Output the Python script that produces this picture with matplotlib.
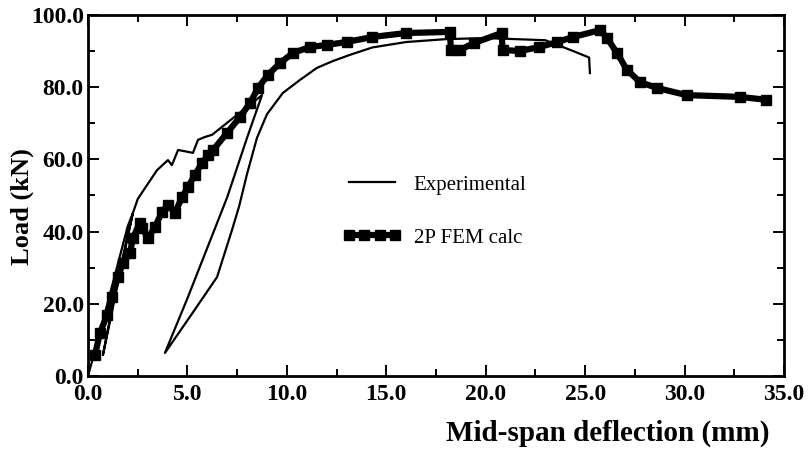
import numpy as np
import matplotlib
matplotlib.use('Agg')
import matplotlib.pyplot as plt
from matplotlib.ticker import MultipleLocator, FormatStrFormatter

plt.rcParams['font.family'] = ['Liberation Serif', 'DejaVu Serif']

# Experimental load-deflection curve (mm, kN)
exp_x = [0.0, 0.5, 1.0, 1.5, 2.0, 2.25, 1.5, 0.75, 1.5, 2.25, 2.5, 2.8, 3.47, 4.02, 4.22,
         4.53, 5.28, 5.53, 5.88, 6.24, 6.99, 7.49, 8.15, 8.75, 8.0, 7.0, 6.0, 5.0, 3.87,
         5.2, 6.49, 7.24, 7.6, 8.0, 8.5, 9.0, 9.8, 10.66, 11.5, 12.3, 13.2, 14.3, 16.0,
         18.0, 20.0, 22.0, 23.0, 23.6, 24.4, 25.2, 25.24]
exp_y = [0.0, 10.0, 20.5, 31.0, 41.5, 45.0, 27.0, 5.8, 25.5, 45.0, 49.0, 51.5, 57.0, 59.8, 58.4,
         62.6, 61.8, 65.4, 66.2, 66.8, 70.1, 72.3, 75.1, 77.8, 66.0, 49.5, 35.5, 21.5, 6.4,
         17.0, 27.4, 40.4, 47.0, 56.0, 66.0, 72.5, 78.4, 82.0, 85.3, 87.2, 89.0, 91.0, 92.5,
         93.3, 93.6, 93.2, 93.0, 91.7, 90.0, 88.2, 83.9]

# 2P FEM calculation
fem_x = [0.35, 0.6, 0.96, 1.2, 1.5, 1.76, 2.11, 2.26, 2.6, 2.72, 3.02, 3.37, 3.72, 4.02,
         4.37, 4.73, 5.03, 5.38, 5.73, 6.03, 6.29, 6.99, 7.64, 8.15, 8.55, 9.05, 9.66,
         10.31, 11.16, 12.0, 13.0, 14.3, 16.0, 18.2, 18.25, 18.7, 19.4, 20.8, 20.85, 21.7,
         22.7, 23.6, 24.4, 25.75, 26.1, 26.6, 27.1, 27.76, 28.6, 30.1, 32.8, 34.1]
fem_y = [5.8, 11.9, 16.9, 21.9, 27.4, 31.3, 34.0, 38.2, 42.4, 41.0, 38.2, 41.3, 45.4, 47.4,
         45.2, 49.5, 52.4, 55.7, 59.0, 61.2, 62.6, 67.3, 71.7, 75.6, 79.8, 83.4, 86.7,
         89.5, 91.1, 91.7, 92.5, 93.9, 95.0, 95.3, 90.3, 90.3, 92.2, 95.0, 90.3, 90.0,
         91.1, 92.5, 93.9, 95.8, 93.6, 89.5, 84.8, 81.4, 79.8, 77.8, 77.3, 76.5]

fig = plt.figure(figsize=(8.11, 4.53), dpi=100)
ax = fig.add_axes([0.1085, 0.17, 0.8582, 0.797])

ax.plot(exp_x, exp_y, color='black', lw=1.6, label='Experimental')
ax.plot(fem_x, fem_y, color='black', lw=4.5, marker='s', ms=7,
        label='2P FEM calc')

ax.set_xlim(0, 35)
ax.set_ylim(0, 100)
ax.xaxis.set_major_locator(MultipleLocator(5))
ax.xaxis.set_minor_locator(MultipleLocator(2.5))
ax.yaxis.set_major_locator(MultipleLocator(20))
ax.yaxis.set_minor_locator(MultipleLocator(10))
ax.xaxis.set_major_formatter(FormatStrFormatter('%.1f'))
ax.yaxis.set_major_formatter(FormatStrFormatter('%.1f'))
ax.tick_params(which='both', direction='in', top=True, right=True, width=1.4)
ax.tick_params(which='major', length=8, labelsize=17, pad=3)
ax.tick_params(axis='x', which='major', pad=6)
ax.tick_params(which='minor', length=5)
for lab in ax.get_xticklabels() + ax.get_yticklabels():
    lab.set_fontweight('bold')
# the "0.0" under the x axis sits a bit to the right, as in the original
ax.get_xticklabels()[0].set_horizontalalignment('left')
for sp in ax.spines.values():
    sp.set_linewidth(2)

ax.set_xlabel('Mid-span deflection (mm)', fontsize=21, fontweight='bold')
ax.xaxis.set_label_coords(0.747, -0.122)
ax.set_ylabel('Load (kN)', fontsize=19, fontweight='bold')
ax.yaxis.set_label_coords(-0.078, 0.47)

ax.legend(loc='center left', bbox_to_anchor=(0.366, 0.456), frameon=False,
          fontsize=15, handlelength=2.8, handletextpad=0.6, labelspacing=1.6,
          numpoints=4, borderpad=0, borderaxespad=0)

fig.savefig('out.png', dpi=100)
